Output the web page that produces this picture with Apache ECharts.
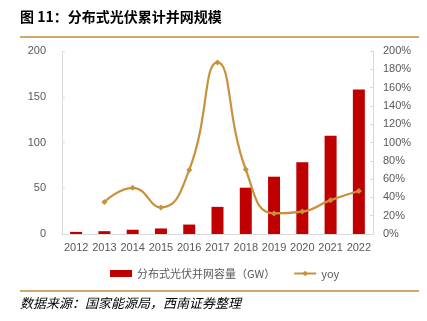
<!DOCTYPE html>
<html>
<head>
<meta charset="utf-8">
<script src="https://cdn.jsdelivr.net/npm/echarts@6/dist/echarts.min.js"></script>
<style>
html,body{margin:0;padding:0;background:#fff;}
#chart{width:427px;height:321px;}
</style>
</head>
<body>
<div id="chart"></div>
<script>
var categories = ['2012','2013','2014','2015','2016','2017','2018','2019','2020','2021','2022'];
var capacity = [2.3, 3.1, 4.67, 6.06, 10.32, 29.66, 50.61, 62.63, 78.31, 107.5, 158];
var yoy = [null, 35, 50.5, 29, 70, 187.5, 70.5, 22.5, 24.5, 37, 47];
var leftTicks = [0, 50, 100, 150, 200];
var rightTicks = [0, 20, 40, 60, 80, 100, 120, 140, 160, 180, 200];
var barName = '分布式光伏并网容量（GW）';
var lineName = 'yoy';
var titleText = '图 11：分布式光伏累计并网规模';
var sourceText = '数据来源：国家能源局，西南证券整理';

var chart = echarts.init(document.getElementById('chart'), null, {renderer: 'canvas'});
var labelColor = '#595959';
var axisLineColor = '#D9D9D9';
var option = {
  animation: false,
  backgroundColor: '#fff',
  textStyle: {fontFamily: 'Liberation Sans, Arial, sans-serif'},
  grid: {left: 62, right: 54, top: 51, bottom: 87, containLabel: false},
  graphic: [
    {type: 'text', left: 20, top: 10, style: {text: titleText, font: 'bold 14px "Noto Sans CJK SC", sans-serif', fill: '#000'}},
    {type: 'rect', shape: {x: 20, y: 36, width: 399, height: 2}, style: {fill: '#D3A86A'}},
    {type: 'rect', shape: {x: 20, y: 290, width: 399, height: 2}, style: {fill: '#D3A86A'}},
    {type: 'text', left: 20, top: 297, style: {text: sourceText, font: 'italic 13px "Noto Sans CJK SC", sans-serif', fill: '#000'}}
  ],
  legend: {
    bottom: 37,
    left: 105,
    itemGap: 18,
    itemWidth: 22,
    itemHeight: 7,
    textStyle: {color: labelColor, fontSize: 11, fontFamily: '"Noto Sans CJK SC", sans-serif'},
    data: [
      {name: barName, icon: 'rect'},
      {name: lineName}
    ]
  },
  xAxis: {
    type: 'category',
    data: categories,
    axisLine: {lineStyle: {color: axisLineColor}},
    axisTick: {show: false},
    axisLabel: {color: labelColor, fontSize: 11, margin: 8, interval: 0}
  },
  yAxis: [
    {
      type: 'value', min: 0, max: 200, interval: 50,
      axisLine: {show: true, lineStyle: {color: axisLineColor}},
      axisTick: {show: true, inside: true, length: 3, lineStyle: {color: axisLineColor}},
      splitLine: {show: false},
      axisLabel: {color: labelColor, fontSize: 11, margin: 16,
        formatter: function (v) { return leftTicks.indexOf(v) >= 0 ? String(v) : ''; }}
    },
    {
      type: 'value', min: 0, max: 200, interval: 20,
      axisLine: {show: true, lineStyle: {color: axisLineColor}},
      axisTick: {show: true, inside: true, length: 3, lineStyle: {color: axisLineColor}},
      splitLine: {show: false},
      axisLabel: {color: labelColor, fontSize: 11, margin: 10,
        formatter: function (v) { return rightTicks.indexOf(v) >= 0 ? v + '%' : ''; }}
    }
  ],
  series: [
    {
      name: barName, type: 'bar', data: capacity, yAxisIndex: 0,
      barWidth: 12,
      itemStyle: {color: '#C00000'}
    },
    {
      name: lineName, type: 'line', data: yoy, yAxisIndex: 1,
      smooth: 0.5,
      connectNulls: false,
      symbol: 'diamond', symbolSize: 6, showSymbol: true,
      lineStyle: {color: '#C8913C', width: 2.2},
      itemStyle: {color: '#C8913C'}
    }
  ]
};
chart.setOption(option);
</script>
</body>
</html>
